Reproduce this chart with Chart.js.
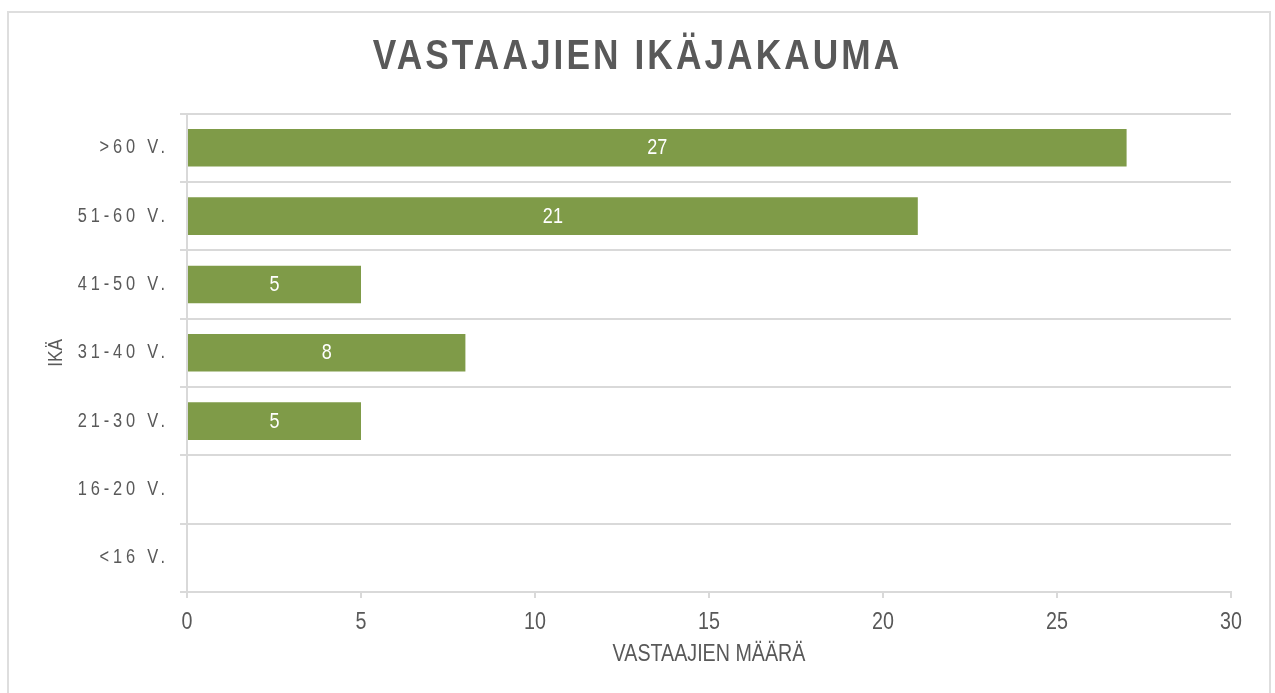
<!DOCTYPE html>
<html><head><meta charset="utf-8">
<script src="https://cdn.jsdelivr.net/npm/chart.js@4.4.0/dist/chart.umd.min.js"></script>
<style>
html,body{margin:0;padding:0;background:#fff;}
#wrap{position:relative;width:1275px;height:693px;overflow:hidden;}
#frame{position:absolute;left:7px;top:11px;width:1264px;height:720px;border:2px solid #dedede;box-sizing:border-box;}
canvas{position:absolute;left:0;top:0;}
</style></head><body>
<div id="wrap"><div id="frame"></div><canvas id="c" width="1275" height="693"></canvas></div>
<script>
const categories = [">60 V.", "51-60 V.", "41-50 V.", "31-40 V.", "21-30 V.", "16-20 V.", "<16 V."];
const counts = [27, 21, 5, 8, 5, 0, 0];
const xTicks = [0, 5, 10, 15, 20, 25, 30];
const chartTitle = "VASTAAJIEN IKÄJAKAUMA";
const xTitle = "VASTAAJIEN MÄÄRÄ";
const yTitle = "IKÄ";

const fam = "'Liberation Sans Narrow','Arial Narrow','Liberation Sans',Arial,sans-serif";
const grey = '#595959';
const gridCol = '#d9d9d9';
const NARROW = 0.82; // horizontal condensing to mimic a narrow typeface

const canvas = document.getElementById('c');
const ctx2d = canvas.getContext('2d');
const nativeFill = CanvasRenderingContext2D.prototype.fillText;
ctx2d.fillText = function (t, x, y, mw) {
  this.save();
  this.translate(x, y);
  this.scale(NARROW, 1);
  if (mw === undefined || mw === null) nativeFill.call(this, t, 0, 0);
  else nativeFill.call(this, t, 0, 0, mw / NARROW);
  this.restore();
};

const spacingPlugin = {
  id: 'spacing',
  beforeDraw(chart) {
    const ys = chart.scales.y;
    if (ys && !ys._spWrapped) {
      const orig = ys.drawLabels;
      ys.drawLabels = function (area) { const c = this.ctx; c.save(); c.letterSpacing = '4.7px'; orig.call(this, area); c.restore(); };
      ys._spWrapped = true;
    }
    const tb = chart.titleBlock;
    if (tb && !tb._spWrapped) {
      const o = tb.draw;
      tb.draw = function () { const c = this.ctx; c.save(); c.translate(2, 0); c.letterSpacing = '3.75px'; o.apply(this, arguments); c.restore(); };
      tb._spWrapped = true;
    }
  }
};

const valueLabels = {
  id: 'valueLabels',
  afterDatasetsDraw(chart) {
    const c = chart.ctx;
    const meta = chart.getDatasetMeta(0);
    c.save();
    c.fillStyle = '#ffffff';
    c.font = `22px ${fam}`;
    c.textAlign = 'center';
    c.textBaseline = 'middle';
    meta.data.forEach((bar, i) => {
      const v = chart.data.datasets[0].data[i];
      if (!v) return;
      const p = bar.getProps(['x', 'y', 'base'], true);
      c.fillText(String(v), (p.x + p.base) / 2, p.y + 0.5);
    });
    c.restore();
  }
};

new Chart(canvas, {
  type: 'bar',
  data: {
    labels: categories,
    datasets: [{
      data: counts,
      backgroundColor: '#7f9b48',
      borderWidth: 0,
      categoryPercentage: 1,
      barPercentage: 0.55
    }]
  },
  options: {
    indexAxis: 'y',
    responsive: false,
    animation: false,
    layout: { padding: { left: 40, right: 44, top: 0, bottom: 0 } },
    plugins: {
      legend: { display: false },
      tooltip: { enabled: false },
      title: {
        display: true, text: chartTitle, color: grey,
        font: { family: fam, size: 43, weight: 'bold', lineHeight: 1.2 },
        padding: { top: 31, bottom: 31 }
      }
    },
    scales: {
      x: {
        type: 'linear', min: 0, max: 30,
        afterBuildTicks(s) { s.ticks = xTicks.map(v => ({ value: v })); },
        ticks: { color: grey, font: { family: fam, size: 24 }, padding: 10 },
        grid: { drawOnChartArea: false, drawTicks: true, tickLength: 6, color: gridCol, lineWidth: 2 },
        border: { display: true, color: gridCol, width: 2 },
        title: { display: true, text: xTitle, color: grey, font: { family: fam, size: 24, lineHeight: 1.2 }, padding: { top: 0, bottom: 24 } },
        afterFit(s) { s.height = 101; }
      },
      y: {
        ticks: { color: grey, font: { family: fam, size: 20 }, padding: 11 },
        grid: { color: gridCol, lineWidth: 2, tickLength: 7, offset: true },
        border: { color: gridCol, width: 2 },
        title: { display: true, text: yTitle, color: grey, font: { family: fam, size: 21, lineHeight: 1.2 }, padding: { top: 3.4, bottom: 0 } },
        afterFit(s) { s.width = 147; }
      }
    }
  },
  plugins: [spacingPlugin, valueLabels]
});
</script>
</body></html>
